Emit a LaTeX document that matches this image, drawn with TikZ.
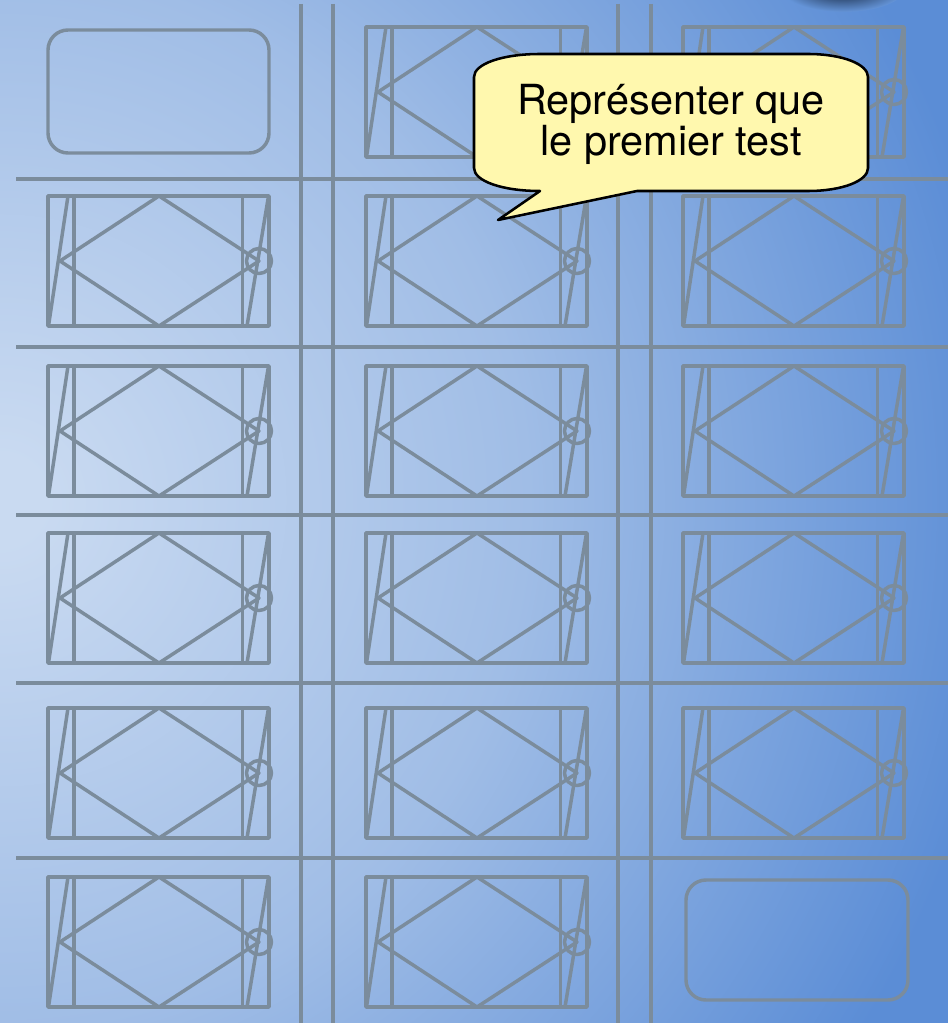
\documentclass[tikz,border=0pt]{standalone}
\usepackage{fontspec}
\setmainfont{TeX Gyre Heros}
\definecolor{linec}{HTML}{7B8C9C}
\definecolor{bgA}{HTML}{C9DAF1}
\definecolor{bgB}{HTML}{A0BDE6}
\definecolor{bgC}{HTML}{5B8DD6}
\definecolor{blobA}{HTML}{2A4368}
\definecolor{blobB}{HTML}{6595D9}
\definecolor{bubblec}{HTML}{FFF8AE}
\pgfdeclareradialshading{bgshade}{\pgfpoint{0bp}{0bp}}{
 color(0bp)=(bgA);color(1bp)=(bgA);color(12bp)=(bgB);color(23bp)=(bgC);color(50bp)=(bgC)}
\pgfdeclareradialshading{blobshade}{\pgfpoint{0bp}{0bp}}{
 color(0bp)=(blobA);color(8bp)=(blobA);color(25bp)=(blobB);color(50bp)=(blobB)}
\tikzset{
 x=0.75pt,y=-0.75pt,
 gridline/.style={draw=linec,line width=2.4pt},
 ln/.style={draw=linec,line width=2.6pt,line join=round},
 emptycell/.style={ln,rounded corners=15pt},
 bubble/.style={draw=black,line width=1.9pt,fill=bubblec,line join=round},
 lbl/.style={font=\fontsize{31.1pt}{30.8pt}\selectfont,align=center,text=black,inner sep=0pt}
}
% #1 = left x, #2 = top y
\newcommand{\cellshape}[2]{%
 \begin{scope}[shift={(#1,#2)}]
  \draw[ln] (0,0) rectangle (221,130);
  \draw[ln] (26,0) -- (26,130);
  \draw[ln] (194.5,0) -- (194.5,130);
  \draw[ln] (0.5,130) -- (20,0);
  \draw[ln] (199,130) -- (220.5,0);
  \draw[ln] (12,65) -- (111,0) -- (211,65) -- (111,130) -- cycle;
  \draw[ln] (211,65) circle (12.5);
 \end{scope}}
\begin{document}
\begin{tikzpicture}
\useasboundingbox (0,0) rectangle (948,1023);
\begin{scope}
 \clip (0,0) rectangle (948,1023);
 \shade[shading=bgshade] (0,500) circle (1100);
 \shade[shading=blobshade] (843,-12) ellipse (62 and 24);
\end{scope}
% grid
\foreach \gy in {179,347,515,683,858}
 \draw[gridline] (16,\gy) -- (948,\gy);
\foreach \gx in {301,333,618,651}
 \draw[gridline] (\gx,4) -- (\gx,1023);
% cells
\draw[emptycell] (48,30) rectangle (269,153);
\cellshape{366}{27}
\cellshape{683}{27}
\foreach \cy in {196,366,533,708}{
 \cellshape{48}{\cy}
 \cellshape{366}{\cy}
 \cellshape{683}{\cy}
}
\cellshape{48}{877}
\cellshape{366}{877}
\draw[emptycell] (686,880) rectangle (908,1000);
% callout
\draw[bubble] (540,54) -- (808,54)
  .. controls (842,54) and (868,64) .. (868,77)
  -- (868,168)
  .. controls (868,181) and (842,191) .. (808,191)
  -- (637,191) -- (498,220) -- (540,191)
  .. controls (502,191) and (474,181) .. (474,168)
  -- (474,77)
  .. controls (474,64) and (502,54) .. (540,54) -- cycle;
\node[lbl] (msg) at (671,124) {Représenter que\\le premier test};
\end{tikzpicture}
\end{document}
